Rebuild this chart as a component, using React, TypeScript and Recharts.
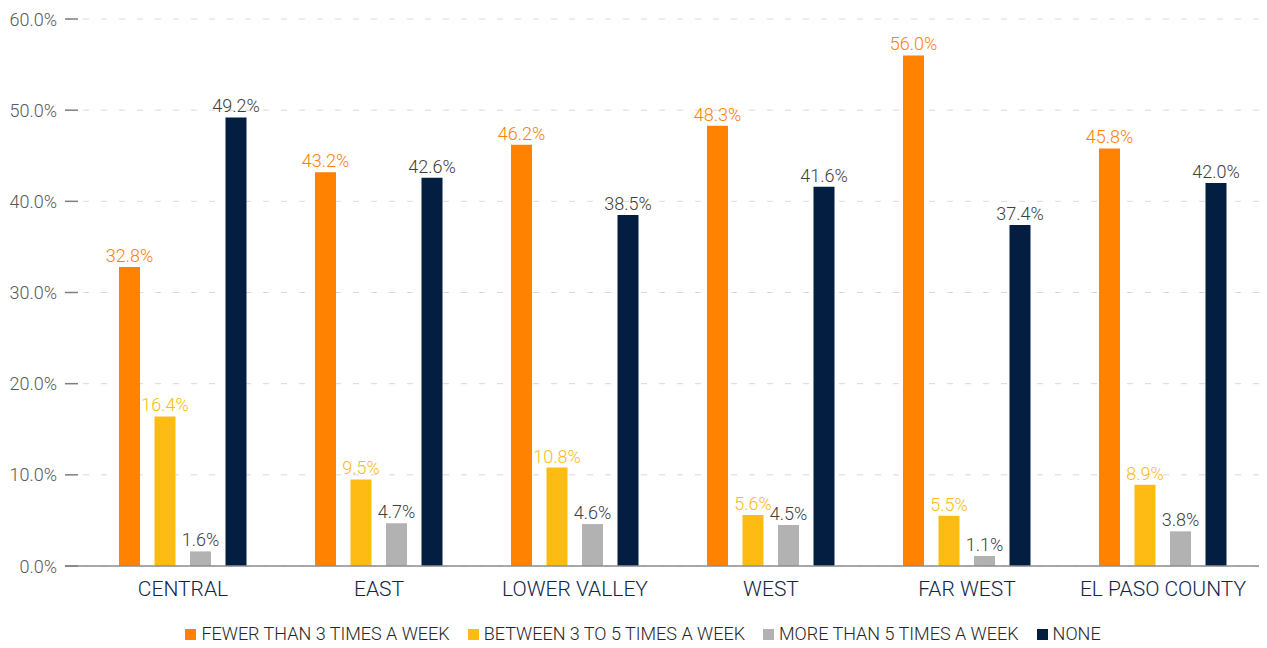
import { BarChart, Bar, XAxis, YAxis, CartesianGrid, Legend, LabelList } from "recharts";

const regions = ["CENTRAL", "EAST", "LOWER VALLEY", "WEST", "FAR WEST", "EL PASO COUNTY"];
const fewerThan3 = [32.8, 43.2, 46.2, 48.3, 56.0, 45.8];
const between3to5 = [16.4, 9.5, 10.8, 5.6, 5.5, 8.9];
const moreThan5 = [1.6, 4.7, 4.6, 4.5, 1.1, 3.8];
const none = [49.2, 42.6, 38.5, 41.6, 37.4, 42.0];
const yTicks = [0, 10, 20, 30, 40, 50, 60];

const FONT = "Roboto, 'Noto Sans', sans-serif";

const series = [
    { key: "fewer", name: "FEWER THAN 3 TIMES A WEEK", color: "#FF8200", label: "#FF8200" },
    { key: "between", name: "BETWEEN 3 TO 5 TIMES A WEEK", color: "#FDBB13", label: "#FDBB13" },
    { key: "more", name: "MORE THAN 5 TIMES A WEEK", color: "#B2B2B2", label: "#404040" },
    { key: "none", name: "NONE", color: "#041E42", label: "#404040" },
];

const data = regions.map((region, i) => ({
    region,
    fewer: fewerThan3[i],
    between: between3to5[i],
    more: moreThan5[i],
    none: none[i],
}));

const pct = (v: any) => `${Number(v).toFixed(1)}%`;

function YTick(props: any) {
    const { x, y, payload } = props;
    return (
        <g>
            <text
                x={x}
                y={y}
                textAnchor="end"
                dominantBaseline="central"
                fontSize={18}
                fontWeight={300}
                fontFamily={FONT}
                fill="#595959"
            >
                {pct(payload.value)}
            </text>
            <line x1={x + 8} x2={x + 21} y1={y} y2={y} stroke="#7f7f7f" strokeWidth={1.5} />
        </g>
    );
}

function LegendContent() {
    return (
        <div
            style={{
                display: "flex",
                justifyContent: "center",
                gap: 18,
                paddingLeft: 17,
                paddingBottom: 2,
                fontFamily: FONT,
                fontSize: 18,
                fontWeight: 300,
                color: "#262626",
                lineHeight: "24px",
            }}
        >
            {series.map((s) => (
                <div key={s.key} style={{ display: "flex", alignItems: "center", gap: 5 }}>
                    <span style={{ width: 11, height: 11, background: s.color, display: "inline-block" }} />
                    <span>{s.name}</span>
                </div>
            ))}
        </div>
    );
}

export default function App() {
    return (
        <div style={{ width: 1259, height: 640, background: "#fff" }}>
            <BarChart
                width={1259}
                height={640}
                data={data}
                margin={{ top: 11, right: 6, left: 0, bottom: 0 }}
                barSize={21}
                barGap={14.5}
            >
                <CartesianGrid
                    vertical={false}
                    stroke="#d9d9d9"
                    strokeDasharray="6 12"
                />
                <XAxis
                    dataKey="region"
                    padding={{ left: 20, right: 0 }}
                    tickLine={false}
                    tickSize={0}
                    tickMargin={15}
                    height={56}
                    axisLine={{ stroke: "#8c8c8c", strokeWidth: 1.5 }}
                    tick={{ fontSize: 21, fontWeight: 300, fontFamily: FONT, fill: "#0F2447" }}
                    interval={0}
                />
                <YAxis
                    domain={[0, 60]}
                    ticks={yTicks}
                    width={57}
                    axisLine={false}
                    tickLine={false}
                    tickSize={0}
                    tickMargin={8}
                    tick={<YTick />}
                />
                <Legend verticalAlign="bottom" content={<LegendContent />} />
                {series.map((s) => (
                    <Bar
                        key={s.key}
                        dataKey={s.key}
                        name={s.name}
                        fill={s.color}
                        isAnimationActive={false}
                    >
                        <LabelList
                            dataKey={s.key}
                            position="top"
                            offset={5}
                            formatter={pct}
                            style={{ fontSize: 18, fontWeight: 300, fontFamily: FONT, fill: s.label }}
                        />
                    </Bar>
                ))}
            </BarChart>
        </div>
    );
}
